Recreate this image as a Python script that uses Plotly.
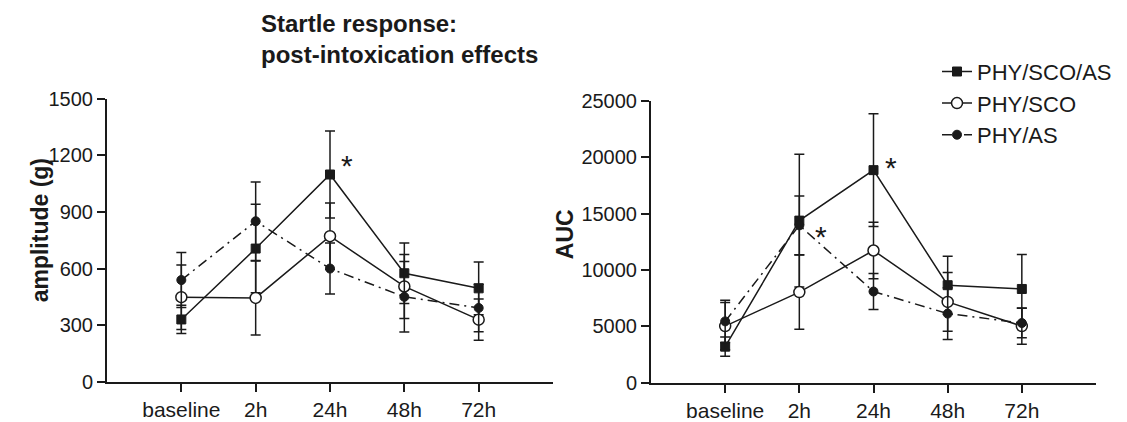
import plotly.graph_objects as go

# ---------------- data ----------------
categories = ["baseline", "2h", "24h", "48h", "72h"]
series_names = ["PHY/SCO/AS", "PHY/SCO", "PHY/AS"]

# amplitude (g)
amp_phy_sco_as = [330, 706, 1099, 575, 495]
amp_phy_sco_as_err = [75, 235, 231, 160, 140]
amp_phy_sco = [448, 444, 772, 505, 329]
amp_phy_sco_err = [171, 196, 176, 170, 109]
amp_phy_as = [539, 851, 600, 450, 391]
amp_phy_as_err = [146, 208, 135, 187, 126]

# AUC
auc_phy_sco_as = [3190, 14370, 18850, 8640, 8305]
auc_phy_sco_as_err = [850, 5900, 5000, 2575, 3050]
auc_phy_sco = [5010, 8030, 11720, 7160, 5010]
auc_phy_sco_err = [2100, 3300, 2500, 2600, 1600]
auc_phy_as = [5430, 13950, 8080, 6120, 5285]
auc_phy_as_err = [1870, 2600, 1600, 2300, 1300]

amp_ticks = [0, 300, 600, 900, 1200, 1500]
auc_ticks = [0, 5000, 10000, 15000, 20000, 25000]

title_text = "Startle response:<br>post-intoxication effects"
ylabel_left = "amplitude (g)"
ylabel_right = "AUC"

# ---------------- style ----------------
W, H = 1127, 422
FONT = "Liberation Sans, Arial, Helvetica, sans-serif"
BLACK = "#1a1a1a"

styles = {
    "PHY/SCO/AS": dict(symbol="square", size=9, color=BLACK, line=dict(color=BLACK, width=1), dash="solid"),
    "PHY/SCO": dict(symbol="circle", size=11, color="white", line=dict(color=BLACK, width=1.5), dash="solid"),
    "PHY/AS": dict(symbol="circle", size=9, color=BLACK, line=dict(color=BLACK, width=1), dash="10px,5px,2px,5px"),
}

fig = go.Figure()

def add_series(name, xs, ys, errs, xaxis, yaxis, showlegend):
    st = styles[name]
    fig.add_trace(go.Scatter(
        x=xs, y=ys, name=name, mode="lines+markers",
        xaxis=xaxis, yaxis=yaxis, showlegend=showlegend, legendgroup=name,
        line=dict(color=BLACK, width=1.5, dash=st["dash"]),
        marker=dict(symbol=st["symbol"], size=st["size"], color=st["color"], line=st["line"]),
        error_y=dict(type="data", array=errs, visible=True, color=BLACK, thickness=1.5, width=5),
    ))

left = [(amp_phy_sco_as, amp_phy_sco_as_err), (amp_phy_sco, amp_phy_sco_err), (amp_phy_as, amp_phy_as_err)]
right = [(auc_phy_sco_as, auc_phy_sco_as_err), (auc_phy_sco, auc_phy_sco_err), (auc_phy_as, auc_phy_as_err)]

for name, (ys, es) in zip(series_names, left):
    add_series(name, categories, ys, es, "x", "y", True)
for name, (ys, es) in zip(series_names, right):
    add_series(name, categories, ys, es, "x2", "y2", False)

def px_x(p):
    return p / W

def px_y(p):
    return 1 - p / H

axis_common = dict(
    showline=True, linecolor=BLACK, linewidth=2, ticks="outside", ticklen=8, tickwidth=2,
    tickcolor=BLACK, showgrid=False, zeroline=False, tickfont=dict(family=FONT, size=20, color=BLACK),
    fixedrange=True,
)
xaxis_common = dict(axis_common, tickfont=dict(family=FONT, size=21, color=BLACK))

fig.update_layout(
    width=W, height=H, margin=dict(l=0, r=0, t=0, b=0),
    paper_bgcolor="white", plot_bgcolor="white",
    font=dict(family=FONT, color=BLACK),
    xaxis=dict(domain=[px_x(107), px_x(553)], type="category", categoryorder="array",
               categoryarray=categories, range=[-1, 5], anchor="y", **xaxis_common),
    yaxis=dict(domain=[px_y(392), px_y(93)], range=[0, 1500], tickvals=amp_ticks,
               ticktext=[str(t) for t in amp_ticks], anchor="x", **axis_common),
    xaxis2=dict(domain=[px_x(651), px_x(1096)], type="category", categoryorder="array",
                categoryarray=categories, range=[-1, 5], anchor="y2", **xaxis_common),
    yaxis2=dict(domain=[px_y(393), px_y(95)], range=[0, 25000], tickvals=auc_ticks,
                ticktext=[str(t) for t in auc_ticks], anchor="x2", **axis_common),
    showlegend=True,
    legend=dict(x=px_x(937), y=px_y(42), xanchor="left", yanchor="top",
                font=dict(family=FONT, size=22, color=BLACK), bgcolor="rgba(0,0,0,0)",
                tracegroupgap=0, itemsizing="trace"),
)

annotations = [
    dict(text="<b>" + title_text + "</b>", x=px_x(259), y=px_y(-3), xref="paper", yref="paper",
         xanchor="left", yanchor="top", align="left", showarrow=False,
         font=dict(family=FONT, size=24, color=BLACK)),
    dict(text="<b>" + ylabel_left + "</b>", x=px_x(25), y=px_y(232), xref="paper", yref="paper",
         textangle=-90, showarrow=False, font=dict(family=FONT, size=23, color=BLACK)),
    dict(text="<b>" + ylabel_right + "</b>", x=px_x(565), y=px_y(236), xref="paper", yref="paper",
         textangle=-90, showarrow=False, font=dict(family=FONT, size=23, color=BLACK)),
    # significance asterisks next to data points
    dict(text="*", x=categories[2], y=amp_phy_sco_as[2], xref="x", yref="y", xshift=17, yshift=9,
         showarrow=False, font=dict(family=FONT, size=30, color=BLACK)),
    dict(text="*", x=categories[2], y=auc_phy_sco_as[2], xref="x2", yref="y2", xshift=17, yshift=3,
         showarrow=False, font=dict(family=FONT, size=30, color=BLACK)),
    dict(text="*", x=categories[1], y=auc_phy_as[1], xref="x2", yref="y2", xshift=22, yshift=-11,
         showarrow=False, font=dict(family=FONT, size=30, color=BLACK)),
]
fig.update_layout(annotations=annotations)

fig.write_html("out.html", include_plotlyjs=True, config={"displayModeBar": False},
               post_script="document.body.style.margin='0';document.body.style.overflow='hidden';")
